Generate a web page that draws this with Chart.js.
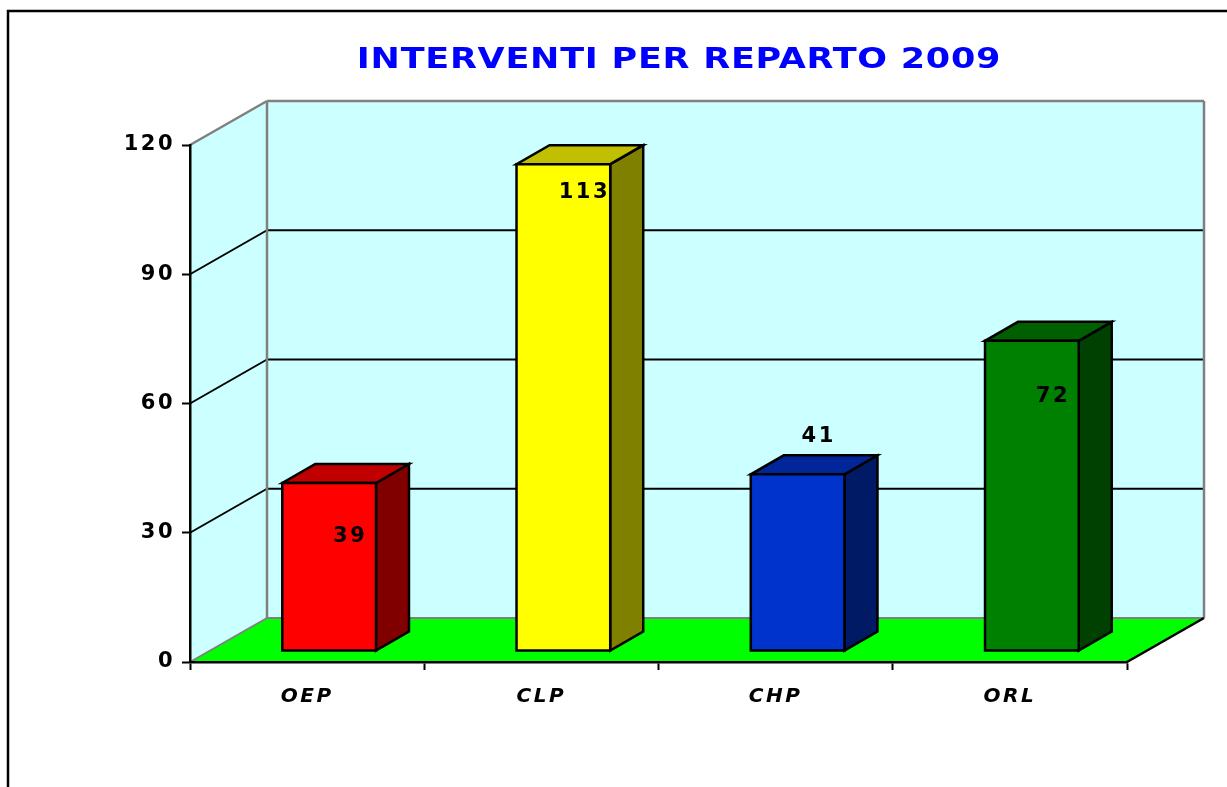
<!DOCTYPE html>
<html>
<head>
<meta charset="utf-8">
<script src="https://cdn.jsdelivr.net/npm/chart.js@4.4.1/dist/chart.umd.min.js"></script>
<style>
  html, body { margin: 0; padding: 0; background: #fff; }
  #wrap { width: 1227px; height: 787px; }
</style>
</head>
<body>
<div id="wrap"><canvas id="c" width="1227" height="787"></canvas></div>
<script>
// data
const chartTitle = 'INTERVENTI PER REPARTO 2009';
const reparti = ['OEP', 'CLP', 'CHP', 'ORL'];
const interventi = [39, 113, 41, 72];
const yTicks = [0, 30, 60, 90, 120];

// face colours for each bar: front, top, side
const frontColors = ['#FF0000', '#FFFF00', '#0033CC', '#008000'];
const topColors = ['#C00000', '#C0C000', '#00269A', '#006000'];
const sideColors = ['#800000', '#808000', '#001A66', '#004000'];
// vertical shift of each value label relative to the bar top (manual in the original)
const labelDy = [54, 28, -38, 56];

const FONT = 'DejaVu Sans';
const WALL_DX = 77, WALL_DY = 44;   // depth of the walls
const BAR_FX = 22, BAR_FY = 11;     // bar front plane shift
const BAR_DX = 33, BAR_DY = 19;     // bar depth

function poly(ctx, pts, fill, stroke, lw) {
	ctx.beginPath();
	ctx.moveTo(pts[0][0], pts[0][1]);
	for (let i = 1; i < pts.length; i++) ctx.lineTo(pts[i][0], pts[i][1]);
	ctx.closePath();
	if (fill) { ctx.fillStyle = fill; ctx.fill(); }
	if (stroke) { ctx.strokeStyle = stroke; ctx.lineWidth = lw || 1; ctx.stroke(); }
}

function line(ctx, x0, y0, x1, y1, color, lw) {
	ctx.beginPath();
	ctx.moveTo(x0, y0);
	ctx.lineTo(x1, y1);
	ctx.strokeStyle = color;
	ctx.lineWidth = lw;
	ctx.stroke();
}

const scene3d = {
	id: 'scene3d',
	beforeDraw(chart) {
		const ctx = chart.ctx;
		const a = chart.chartArea;
		const ys = chart.scales.y;
		const L = a.left, R = a.right, T = ys.getPixelForValue(ys.max), B = ys.getPixelForValue(0);

		ctx.save();
		// outer frame (runs off the bottom / right of the picture)
		ctx.strokeStyle = '#000';
		ctx.lineWidth = 2.5;
		ctx.strokeRect(8, 11, 1260, 800);

		// title, widened like the original rounded font
		ctx.save();
		ctx.translate(679, 68);
		ctx.scale(1.25, 1);
		ctx.letterSpacing = '0.6px';
		ctx.font = 'bold 28px "' + FONT + '"';
		ctx.fillStyle = '#0000FF';
		ctx.textAlign = 'center';
		ctx.textBaseline = 'alphabetic';
		ctx.fillText(chartTitle, 0, 0);
		ctx.restore();

		// side wall, back wall, floor
		poly(ctx, [[L, T], [L + WALL_DX, T - WALL_DY], [L + WALL_DX, B - WALL_DY], [L, B]], '#CCFFFF');
		ctx.fillStyle = '#CCFFFF';
		ctx.fillRect(L + WALL_DX, T - WALL_DY, R - L, B - T);
		poly(ctx, [[L, B], [R, B], [R + WALL_DX, B - WALL_DY], [L + WALL_DX, B - WALL_DY]], '#00FF00');

		// gridlines on side + back wall
		ys.ticks.forEach(t => {
			const y = ys.getPixelForValue(t.value);
			if (t.value === 0 || t.value === ys.max) return;
			line(ctx, L, y, L + WALL_DX, y - WALL_DY, '#000', 2);
			line(ctx, L + WALL_DX, y - WALL_DY, R + WALL_DX, y - WALL_DY, '#000', 2);
		});
		// wall edges
		const gray = '#808080';
		line(ctx, L, T, L + WALL_DX, T - WALL_DY, gray, 2.5);
		line(ctx, L + WALL_DX, T - WALL_DY, R + WALL_DX, T - WALL_DY, gray, 2.5);
		line(ctx, L + WALL_DX, T - WALL_DY, L + WALL_DX, B - WALL_DY, gray, 2.5);
		line(ctx, R + WALL_DX, T - WALL_DY, R + WALL_DX, B - WALL_DY, gray, 2.5);
		line(ctx, L + WALL_DX, B - WALL_DY, R + WALL_DX, B - WALL_DY, gray, 2);
		line(ctx, L, B, L + WALL_DX, B - WALL_DY, gray, 2);
		line(ctx, R, B, R + WALL_DX, B - WALL_DY, '#000', 2.5);
		ctx.restore();

		// spaced-out lettering for the axis labels
		ctx.letterSpacing = '2.5px';
	},
	afterDatasetsDraw(chart) {
		const ctx = chart.ctx;
		const meta = chart.getDatasetMeta(0);
		ctx.save();
		ctx.lineJoin = 'miter';
		meta.data.forEach((bar, i) => {
			const w = bar.width;
			const x0 = bar.x - w / 2 + BAR_FX, x1 = x0 + w;
			const yT = bar.y - BAR_FY, yB = bar.base - BAR_FY;
			poly(ctx, [[x1, yT], [x1 + BAR_DX, yT - BAR_DY], [x1 + BAR_DX, yB - BAR_DY], [x1, yB]], sideColors[i], '#000', 2.5);
			poly(ctx, [[x0, yT], [x1, yT], [x1 + BAR_DX, yT - BAR_DY], [x0 + BAR_DX, yT - BAR_DY]], topColors[i], '#000', 2.5);
			poly(ctx, [[x0, yT], [x1, yT], [x1, yB], [x0, yB]], frontColors[i], '#000', 2.5);

			ctx.letterSpacing = '2.5px';
			ctx.font = 'bold 21px "' + FONT + '"';
			ctx.fillStyle = '#000';
			ctx.textAlign = 'center';
			ctx.textBaseline = 'middle';
			ctx.fillText(String(interventi[i]), (x0 + x1) / 2 + 21, yT + labelDy[i]);
		});
		ctx.restore();
	},
	afterDraw(chart) {
		chart.ctx.letterSpacing = '0px';
	}
};

new Chart(document.getElementById('c'), {
	type: 'bar',
	data: {
		labels: reparti,
		datasets: [{
			data: interventi,
			backgroundColor: 'rgba(0,0,0,0)',
			borderWidth: 0,
			barPercentage: 0.4,
			categoryPercentage: 1
		}]
	},
	options: {
		responsive: false,
		animation: false,
		events: [],
		layout: { padding: { left: 0, top: 145, right: 100, bottom: 65 } },
		plugins: {
			legend: { display: false },
			title: { display: false },
			tooltip: { enabled: false }
		},
		scales: {
			x: {
				afterFit(scale) { scale.height = 60; },
				border: { color: '#000', width: 2.5 },
				grid: { offset: true, drawOnChartArea: false, tickLength: 8, color: '#000', tickWidth: 2 },
				ticks: {
					color: '#000',
					padding: 15,
					font: { family: FONT, size: 20, style: 'italic', weight: 'bold' }
				}
			},
			y: {
				min: 0,
				max: 120,
				afterFit(scale) { scale.width = 190; },
				afterBuildTicks(scale) { scale.ticks = yTicks.map(v => ({ value: v })); },
				border: { color: '#000', width: 2.5 },
				grid: { drawOnChartArea: false, tickLength: 8, color: '#000', tickWidth: 2 },
				ticks: {
					color: '#000',
					padding: 7,
					font: { family: FONT, size: 21, weight: 'bold' }
				}
			}
		}
	},
	plugins: [scene3d]
});
</script>
</body>
</html>
